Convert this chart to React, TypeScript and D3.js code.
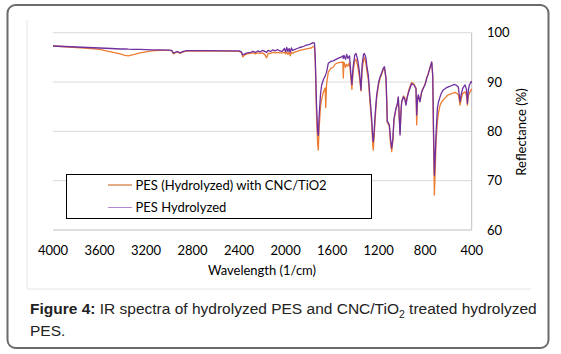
import React from "react";
import * as d3 from "d3";

// wavenumber (1/cm)
const waveNumbers = [
  4000, 3900, 3800, 3700, 3600, 3500, 3424, 3380, 3353, 3300, 3250, 3200, 3150, 3080, 3000,
  2980, 2965, 2950, 2930, 2908, 2880, 2850, 2700, 2500, 2400, 2380, 2369, 2350, 2330, 2300,
  2280, 2260, 2240, 2220, 2200, 2180, 2163, 2150, 2130, 2110, 2090, 2070, 2050, 2030, 2010,
  2000, 1990, 1980, 1970, 1960, 1950, 1940, 1920, 1900, 1880, 1860, 1840, 1820, 1800, 1780,
  1764, 1752, 1745, 1735, 1725, 1719, 1712, 1700, 1690, 1675, 1660, 1655, 1648, 1633, 1610,
  1590, 1575, 1550, 1530, 1518, 1508, 1504, 1498, 1485, 1475, 1465, 1450, 1440, 1430, 1420,
  1405, 1395, 1380, 1365, 1352, 1342, 1330, 1323, 1310, 1300, 1289, 1275, 1260, 1250, 1246,
  1240, 1230, 1217, 1200, 1188, 1175, 1160, 1150, 1137, 1130, 1126, 1118, 1108, 1098, 1088,
  1078, 1068, 1051, 1040, 1031, 1016, 1008, 1002, 987, 975, 965, 955, 945, 930, 916,
  906, 896, 885, 879, 873, 866, 859, 845, 830, 815, 802, 787, 775, 764, 754,
  744, 735, 728, 721, 714, 707, 695, 685, 672, 660, 644, 620, 601, 570, 544,
  530, 515, 500, 490, 477, 465, 457, 445, 437, 428, 420, 410, 405, 400,
];

// PES Hydrolyzed (purple)
const pesHydrolyzed = [
  97.3, 97.2, 97.1, 97.0, 96.9, 96.8, 96.7, 96.7, 96.65, 96.6, 96.6, 96.55, 96.5, 96.5, 96.45,
  96.4, 95.9, 96.0, 96.2, 95.9, 96.2, 96.35, 96.35, 96.3, 96.3, 96.1, 95.5, 95.7, 95.9, 96.0,
  96.2, 96.0, 96.3, 96.1, 96.4, 96.2, 96.0, 96.4, 96.2, 96.5, 96.3, 96.6, 96.3, 96.2, 96.8,
  96.1, 97.0, 96.2, 96.8, 96.0, 96.9, 96.4, 96.6, 96.8, 97.0, 97.1, 97.3, 97.5, 97.6, 97.8,
  98.0, 97.9, 95.0, 86.0, 80.0, 79.2, 83.0, 87.5, 89.4, 90.5, 91.2, 91.5, 92.0, 93.8, 94.2,
  94.3, 94.5, 94.8, 95.0, 95.1, 95.3, 94.8, 95.4, 94.6, 95.6, 94.8, 95.3, 92.0, 89.5, 93.0,
  95.5, 95.8, 94.5, 92.0, 88.4, 93.5, 95.6, 95.8, 95.0, 93.0, 91.4, 87.0, 82.6, 78.5, 77.9,
  79.5, 83.5, 87.4, 90.0, 91.0, 91.8, 92.8, 93.1, 90.75, 86.0, 82.0, 81.8, 81.3, 78.5, 76.6,
  78.5, 82.6, 84.7, 85.5, 87.0, 79.25, 84.0, 86.0, 87.0, 86.5, 85.3, 86.8, 87.7, 88.8, 89.7,
  89.5, 89.4, 88.9, 88.7, 83.3, 86.5, 87.4, 86.0, 88.0, 88.8, 89.4, 90.75, 91.5, 92.4, 93.2,
  94.1, 91.4, 80.0, 71.1, 75.0, 79.25, 84.7, 86.0, 87.0, 87.8, 88.4, 88.8, 89.0, 89.3, 89.5,
  89.3, 89.0, 86.0, 87.5, 88.7, 89.2, 89.4, 88.5, 85.7, 88.5, 89.4, 89.8, 90.1, 89.8,
];

// PES (Hydrolyzed) with CNC/TiO2 (orange)
const pesWithCncTio2 = [
  97.3, 97.15, 97.0, 96.85, 96.6, 96.1, 95.7, 95.4, 95.3, 95.6, 95.9, 96.1, 96.3, 96.4, 96.4,
  96.35, 95.7, 95.9, 96.1, 95.8, 96.1, 96.25, 96.3, 96.25, 96.2, 96.0, 95.1, 95.5, 95.7, 95.8,
  95.9, 95.7, 95.9, 95.8, 95.9, 95.6, 94.9, 95.8, 95.8, 96.0, 95.9, 96.0, 95.9, 95.9, 96.0,
  95.7, 96.1, 95.6, 96.1, 95.3, 96.0, 95.8, 96.1, 96.2, 96.4, 96.5, 96.6, 96.7, 96.8, 96.9,
  97.2, 97.1, 94.0, 84.0, 77.5, 76.2, 80.5, 85.0, 86.5, 88.0, 88.8, 84.8, 89.5, 92.0, 92.8,
  93.0, 93.6, 93.9, 94.0, 94.0, 94.1, 90.8, 94.0, 93.0, 93.6, 93.2, 94.0, 91.0, 88.5, 92.0,
  94.5, 94.6, 93.2, 91.0, 88.2, 92.5, 94.5, 95.0, 93.8, 92.0, 90.5, 86.0, 81.5, 77.0, 76.2,
  78.5, 82.5, 86.8, 89.5, 90.8, 91.5, 92.6, 92.8, 90.7, 85.5, 81.8, 81.5, 81.0, 77.5, 75.9,
  78.0, 82.3, 84.5, 85.3, 86.8, 79.6, 84.0, 86.0, 87.2, 86.8, 85.6, 87.0, 88.0, 89.2, 89.9,
  89.8, 89.6, 89.0, 88.7, 81.3, 86.0, 87.3, 86.1, 88.1, 88.9, 89.5, 90.8, 91.6, 92.5, 93.3,
  94.0, 91.0, 78.0, 67.1, 72.0, 77.7, 82.0, 83.8, 85.3, 85.9, 86.4, 87.0, 87.4, 87.7, 87.9,
  87.7, 87.5, 85.3, 86.6, 87.7, 87.9, 88.0, 87.3, 85.3, 87.2, 87.7, 88.2, 88.4, 88.6,
];

const xTicks = [4000, 3600, 3200, 2800, 2400, 2000, 1600, 1200, 800, 400];
const yTicks = [60, 70, 80, 90, 100];

const seriesNames = ["PES (Hydrolyzed) with CNC/TiO2", "PES Hydrolyzed"];

const chartFont = "Lato, 'Open Sans', sans-serif";

export default function App() {
  const x = d3.scaleLinear().domain([4000, 400]).range([53, 471.7]);
  const y = d3.scaleLinear().domain([60, 100]).range([230, 32.7]);

  const line = (vals: number[]) =>
    d3
      .line<number>()
      .x((_, i) => x(waveNumbers[i]))
      .y((d) => y(d))(vals) || "";

  return (
    <div style={{ position: "absolute", left: 0, top: 0 }}>
      <svg width={561} height={354} style={{ display: "block" }}>
        <rect x={0} y={0} width={561} height={354} fill="#fff" />
        <rect x={7.5} y={5} width={541} height={343} rx={8} fill="#fff" stroke="#6b6b6b" strokeWidth={2} />

        {/* chart picture edge */}
        <line x1={27} x2={27} y1={20} y2={289} stroke="#e6e6e6" />
        <line x1={27} x2={531} y1={289} y2={289} stroke="#e6e6e6" />

        {/* gridlines */}
        {yTicks.slice(1).map((t) => (
          <line key={t} x1={x(4000)} x2={x(400)} y1={y(t)} y2={y(t)} stroke="#d9d9d9" strokeWidth={1} />
        ))}
        <line x1={x(4000)} x2={x(400)} y1={y(60)} y2={y(60)} stroke="#bfbfbf" strokeWidth={1} />
        <line x1={x(400)} x2={x(400)} y1={y(100)} y2={y(60)} stroke="#bfbfbf" strokeWidth={1} />

        <path d={line(pesWithCncTio2)} fill="none" stroke="#ed7d31" strokeWidth={1.3} strokeLinejoin="round" />
        <path d={line(pesHydrolyzed)} fill="none" stroke="#7030a0" strokeWidth={1.3} strokeLinejoin="round" />

        {/* x tick labels */}
        {xTicks.map((t) => (
          <text key={t} x={x(t)} y={254.5} textAnchor="middle" fontFamily={chartFont} fontSize={13} fill="#000">
            {t}
          </text>
        ))}
        <text x={262} y={275} textAnchor="middle" fontFamily={chartFont} fontSize={13} fill="#000">
          Wavelength (1/cm)
        </text>

        {/* y tick labels */}
        {yTicks.map((t) => (
          <text key={t} x={487} y={y(t)} dy="0.35em" fontFamily={chartFont} fontSize={13} fill="#000">
            {t}
          </text>
        ))}
        <text
          transform="translate(526,132) rotate(-90)"
          textAnchor="middle"
          fontFamily={chartFont}
          fontSize={13}
          fill="#000"
        >
          Reflectance (%)
        </text>

        {/* legend */}
        <rect x={66.5} y={174.5} width={305} height={44} fill="#fff" stroke="#000" strokeWidth={1} />
        <line x1={108} x2={132} y1={185} y2={185} stroke="#c55a11" strokeWidth={1} />
        <line x1={108} x2={132} y1={207.5} y2={207.5} stroke="#b08ad0" strokeWidth={1} />
        <text x={135.5} y={185} dy="0.35em" fontFamily={chartFont} fontSize={13} fill="#000">
          {seriesNames[0]}
        </text>
        <text x={135.5} y={207.5} dy="0.35em" fontFamily={chartFont} fontSize={13} fill="#000">
          {seriesNames[1]}
        </text>

        {/* caption */}
        <text x={30} y={313.5} fontFamily="'Liberation Sans', Arial, sans-serif" fontSize={15.5} fill="#222">
          <tspan fontWeight="bold">Figure 4:</tspan>
          <tspan> IR spectra of hydrolyzed PES and CNC/TiO</tspan>
          <tspan fontSize={10.5} dy={4}>2</tspan>
          <tspan dy={-4}> treated hydrolyzed</tspan>
        </text>
        <text x={30} y={335.5} fontFamily="'Liberation Sans', Arial, sans-serif" fontSize={15.5} fill="#222">
          PES.
        </text>
      </svg>
    </div>
  );
}
